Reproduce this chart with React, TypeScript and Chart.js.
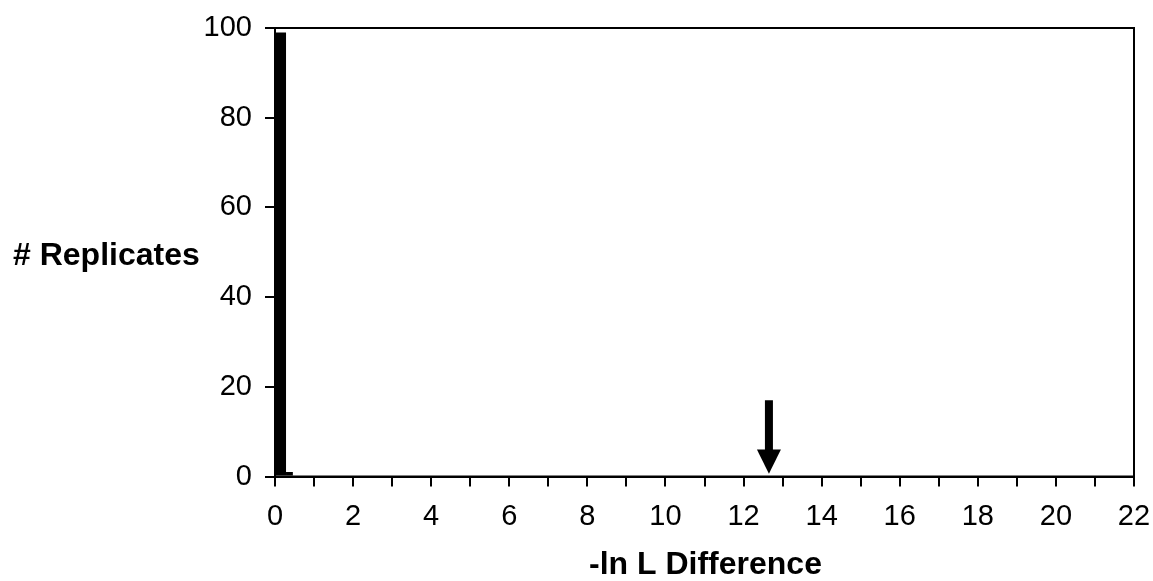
import React, { useEffect, useRef } from "react";
import { Chart, registerables } from "chart.js";

Chart.register(...registerables);

// Histogram bins (-ln L difference) and replicate counts
const binCentersBig = [0.12];
const countsBig = [99];
const binCentersSmall = [0.37];
const countsSmall = [1];

const xTickMin = 0;
const xTickMax = 22;
const yTickMin = 0;
const yTickMax = 100;

// Observed value arrow (x position, from y to y)
const arrowX = 12.65;
const arrowFromY = 17;
const arrowHeadY = 6;
const arrowToY = 0.6;

const yTitle = "# Replicates";
const xTitle = "-ln L Difference";

const FONT = "'Liberation Sans', Arial, Helvetica, sans-serif";

export default function App() {
  const ref = useRef<HTMLCanvasElement | null>(null);

  useEffect(() => {
    document.body.style.margin = "0";
    const canvas = ref.current;
    if (!canvas) return;

    const framePlugin = {
      id: "frameAndText",
      afterDatasetsDraw(chart: any) {
        const { ctx, chartArea, scales } = chart;
        ctx.save();
        ctx.strokeStyle = "#000";
        ctx.lineWidth = 2;
        ctx.strokeRect(
          chartArea.left,
          chartArea.top,
          chartArea.right - chartArea.left,
          chartArea.bottom - chartArea.top
        );
        const px = scales.x.getPixelForValue(arrowX);
        const yTop = scales.y.getPixelForValue(arrowFromY);
        const yHead = scales.y.getPixelForValue(arrowHeadY);
        const yTip = scales.y.getPixelForValue(arrowToY);
        ctx.fillStyle = "#000";
        ctx.fillRect(px - 4, yTop, 8, yHead - yTop + 1);
        ctx.beginPath();
        ctx.moveTo(px - 12, yHead);
        ctx.lineTo(px + 12, yHead);
        ctx.lineTo(px, yTip);
        ctx.closePath();
        ctx.fill();
        ctx.font = `bold 32px ${FONT}`;
        ctx.textBaseline = "alphabetic";
        ctx.textAlign = "left";
        ctx.fillText(yTitle, 13, 265);
        ctx.textAlign = "center";
        ctx.fillText(xTitle, (chartArea.left + chartArea.right) / 2 + 1, 574);
        ctx.restore();
      },
    };

    const chart = new Chart(canvas, {
      type: "bar",
      data: {
        datasets: [
          {
            data: binCentersBig.map((x, i) => ({ x, y: countsBig[i] })),
            backgroundColor: "#000",
            borderWidth: 0,
            barPercentage: 1.3,
            categoryPercentage: 1,
            grouped: false,
          } as any,
          {
            data: binCentersSmall.map((x, i) => ({ x, y: countsSmall[i] })),
            backgroundColor: "#000",
            borderWidth: 0,
            barPercentage: 0.7,
            categoryPercentage: 1,
            grouped: false,
          } as any,
        ],
      },
      plugins: [framePlugin],
      options: {
        animation: false,
        responsive: false,
        maintainAspectRatio: false,
        layout: { padding: { top: 28, right: 19, left: 0, bottom: 0 } },
        plugins: {
          legend: { display: false },
          tooltip: { enabled: false },
          title: { display: false },
        },
        scales: {
          x: {
            type: "linear",
            min: xTickMin,
            max: xTickMax,
            offset: false,
            grid: {
              offset: false,
              drawOnChartArea: false,
              drawTicks: true,
              tickLength: 10,
              color: "#000",
              lineWidth: 2,
            },
            border: { display: true, color: "#000", width: 2 },
            ticks: {
              stepSize: 1,
              autoSkip: false,
              maxRotation: 0,
              color: "#000",
              padding: 13,
              font: { family: FONT, size: 29 },
              callback: (v: any) => (Number(v) % 2 === 0 ? String(v) : ""),
            },
            afterFit: (s: any) => {
              s.height = 104.5;
              s.paddingLeft = 0;
              s.paddingRight = 0;
            },
          },
          y: {
            min: yTickMin,
            max: yTickMax,
            grid: {
              drawOnChartArea: false,
              drawTicks: true,
              tickLength: 10,
              color: "#000",
              lineWidth: 2,
            },
            border: { display: true, color: "#000", width: 2 },
            ticks: {
              stepSize: 20,
              color: "#000",
              padding: 13,
              font: { family: FONT, size: 29 },
            },
            afterFit: (s: any) => {
              s.width = 275;
              s.paddingTop = 0;
              s.paddingBottom = 0;
            },
          },
        },
      } as any,
    });

    return () => chart.destroy();
  }, []);

  return (
    <div style={{ width: 1153, height: 581 }}>
      <canvas ref={ref} width={1153} height={581} style={{ width: 1153, height: 581, display: "block" }} />
    </div>
  );
}
